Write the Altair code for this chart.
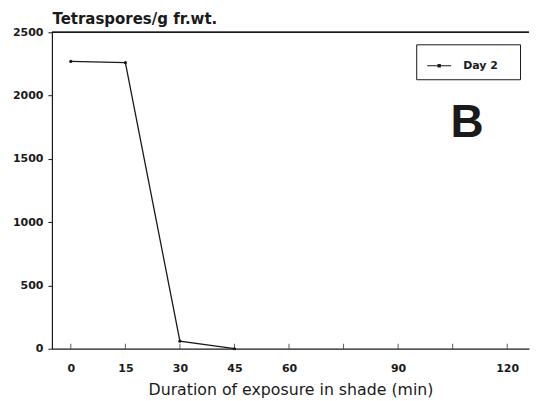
import altair as alt
import pandas as pd

# data
minutes = [0, 15, 30, 45]
tetraspores = [2270, 2260, 60, 0]
series = ["Day 2"] * len(minutes)

x_ticks = [0, 15, 30, 45, 60, 75, 90, 105, 120]
x_labels = [0, 15, 30, 45, 60, 90, 120]
y_ticks = [0, 500, 1000, 1500, 2000, 2500]

df = pd.DataFrame({"min": minutes, "val": tetraspores, "series": series})
ticks_df = pd.DataFrame({"t": x_ticks})

W, H = 478, 317
FONT = "DejaVu Sans"
INK = "#1a1a1a"

xscale = alt.Scale(domain=[-5.2, 126], nice=False, zero=False)
yscale = alt.Scale(domain=[0, 2500], nice=False)

label_expr = "indexof([" + ",".join(str(v) for v in x_labels) + "], datum.value) >= 0 ? datum.label : ''"

base = alt.Chart(df)

line = base.mark_line(color=INK, strokeWidth=1.3, point=alt.OverlayMarkDef(filled=True, size=10, color=INK)).encode(
    x=alt.X("min:Q", scale=xscale,
            axis=alt.Axis(values=x_ticks, labelExpr=label_expr, ticks=False, grid=False,
                          title="Duration of exposure in shade (min)", titlePadding=9,
                          labelPadding=14, labelFlush=False, labelFontSize=11)),
    y=alt.Y("val:Q", scale=yscale,
            axis=alt.Axis(values=y_ticks, grid=False, tickSize=4, labelPadding=5, format="d",
                          title="Tetraspores/g fr.wt.", titleAngle=0, titleAlign="left",
                          titleBaseline="alphabetic", titleX=0, titleY=-9,
                          titleFontWeight="bold", titleFontSize=15)),
    color=alt.Color("series:N", scale=alt.Scale(range=[INK]),
                    legend=alt.Legend(title=None, orient="none", legendX=365, legendY=12,
                                      symbolType="M-1,0L1,0M-0.09,-0.09L0.09,-0.09L0.09,0.09L-0.09,0.09Z",
                                      symbolStrokeWidth=1.2, symbolSize=576,
                                      symbolFillColor=INK, symbolStrokeColor=INK,
                                      symbolOffset=1.5,
                                      strokeColor=INK, padding=8.5, labelFontWeight="bold",
                                      labelFontSize=11, labelFont=FONT, labelColor=INK,
                                      labelExpr="datum.label + '\u2003\u2009\u200b'",
                                      labelOffset=11)),
)

xticks = alt.Chart(ticks_df).mark_tick(color=INK, size=5, thickness=1, orient="vertical").encode(
    x=alt.X("t:Q", scale=xscale),
    y=alt.value(H - 2.5),
)

top_rule = alt.Chart(df).mark_rule(color=INK, strokeWidth=1.2).encode(
    x=alt.value(0), x2=alt.value(W), y=alt.value(0)
)

letter = alt.Chart(pd.DataFrame({"t": ["B"]})).mark_text(
    fontSize=46, fontWeight="bold", font="Liberation Sans", color=INK, align="center", baseline="middle"
).encode(text="t:N", x=alt.value(416), y=alt.value(91))

chart = alt.layer(top_rule, xticks, line, letter).properties(
    width=W, height=H, padding={"left": 4, "top": 3, "right": 0, "bottom": 0}
).configure_view(stroke=None).configure_axis(
    domainColor=INK, domainWidth=1.2, tickColor=INK, labelColor=INK, titleColor=INK,
    labelFont=FONT, titleFont=FONT, labelFontWeight="bold", labelFontSize=11,
    titleFontSize=15.8, titleFontWeight="normal"
)

chart.save("out.html", embed_options={"renderer": "svg", "actions": False})
